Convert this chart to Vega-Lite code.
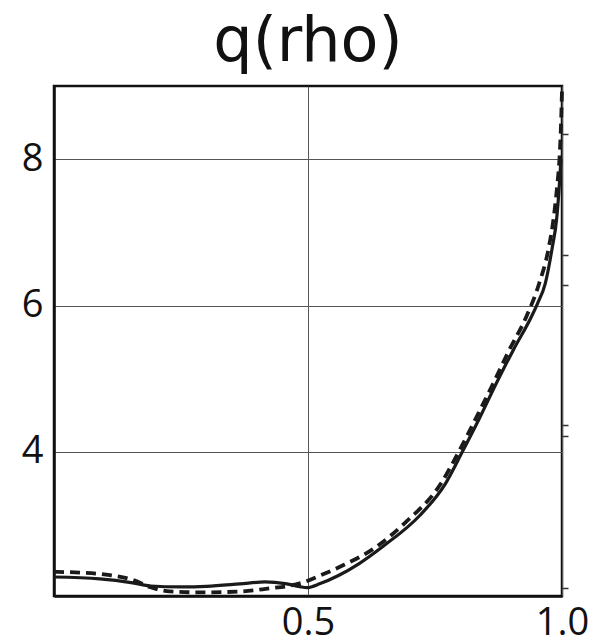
{
  "$schema": "https://vega.github.io/schema/vega-lite/v6.json",
  "width": 508,
  "height": 510,
  "autosize": "none",
  "padding": {"left": 54, "top": 86, "right": 40, "bottom": 48},
  "background": "white",
  "title": {"text": "q(rho)", "fontSize": 62, "font": "DejaVu Sans", "fontWeight": "normal", "color": "#111", "anchor": "middle", "offset": 9},
  "config": {"view": {"stroke": "#111", "strokeWidth": 2.5}},
  "datasets": {
    "curves": [
      {"rho": 0.0, "q": 2.29, "series": "solid"},
      {"rho": 0.09, "q": 2.265, "series": "solid"},
      {"rho": 0.155, "q": 2.21, "series": "solid"},
      {"rho": 0.19, "q": 2.167, "series": "solid"},
      {"rho": 0.25, "q": 2.155, "series": "solid"},
      {"rho": 0.30, "q": 2.162, "series": "solid"},
      {"rho": 0.366, "q": 2.195, "series": "solid"},
      {"rho": 0.415, "q": 2.222, "series": "solid"},
      {"rho": 0.455, "q": 2.20, "series": "solid"},
      {"rho": 0.484, "q": 2.158, "series": "solid"},
      {"rho": 0.498, "q": 2.145, "series": "solid"},
      {"rho": 0.524, "q": 2.20, "series": "solid"},
      {"rho": 0.56, "q": 2.31, "series": "solid"},
      {"rho": 0.60, "q": 2.47, "series": "solid"},
      {"rho": 0.648, "q": 2.71, "series": "solid"},
      {"rho": 0.72, "q": 3.13, "series": "solid"},
      {"rho": 0.77, "q": 3.56, "series": "solid"},
      {"rho": 0.803, "q": 3.99, "series": "solid"},
      {"rho": 0.839, "q": 4.48, "series": "solid"},
      {"rho": 0.871, "q": 4.94, "series": "solid"},
      {"rho": 0.904, "q": 5.39, "series": "solid"},
      {"rho": 0.94, "q": 5.85, "series": "solid"},
      {"rho": 0.952, "q": 6.03, "series": "solid"},
      {"rho": 0.967, "q": 6.30, "series": "solid"},
      {"rho": 0.98, "q": 6.76, "series": "solid"},
      {"rho": 0.99, "q": 7.22, "series": "solid"},
      {"rho": 0.995, "q": 7.67, "series": "solid"},
      {"rho": 0.998, "q": 8.0, "series": "solid"},
      {"rho": 0.0, "q": 2.36, "series": "dashed"},
      {"rho": 0.05, "q": 2.35, "series": "dashed"},
      {"rho": 0.11, "q": 2.315, "series": "dashed"},
      {"rho": 0.155, "q": 2.25, "series": "dashed"},
      {"rho": 0.19, "q": 2.15, "series": "dashed"},
      {"rho": 0.228, "q": 2.092, "series": "dashed"},
      {"rho": 0.287, "q": 2.08, "series": "dashed"},
      {"rho": 0.366, "q": 2.09, "series": "dashed"},
      {"rho": 0.425, "q": 2.135, "series": "dashed"},
      {"rho": 0.465, "q": 2.172, "series": "dashed"},
      {"rho": 0.494, "q": 2.225, "series": "dashed"},
      {"rho": 0.524, "q": 2.31, "series": "dashed"},
      {"rho": 0.563, "q": 2.43, "series": "dashed"},
      {"rho": 0.632, "q": 2.69, "series": "dashed"},
      {"rho": 0.691, "q": 3.03, "series": "dashed"},
      {"rho": 0.761, "q": 3.56, "series": "dashed"},
      {"rho": 0.796, "q": 3.99, "series": "dashed"},
      {"rho": 0.832, "q": 4.48, "series": "dashed"},
      {"rho": 0.865, "q": 4.94, "series": "dashed"},
      {"rho": 0.896, "q": 5.39, "series": "dashed"},
      {"rho": 0.930, "q": 5.85, "series": "dashed"},
      {"rho": 0.955, "q": 6.30, "series": "dashed"},
      {"rho": 0.973, "q": 6.76, "series": "dashed"},
      {"rho": 0.984, "q": 7.22, "series": "dashed"},
      {"rho": 0.991, "q": 7.67, "series": "dashed"},
      {"rho": 0.995, "q": 8.0, "series": "dashed"},
      {"rho": 0.998, "q": 8.46, "series": "dashed"},
      {"rho": 1.0, "q": 8.94, "series": "dashed"}
    ]
  },
  "data": {"name": "curves"},
  "resolve": {"axis": {"y": "independent"}},
  "layer": [
    {
      "transform": [{"filter": "datum.series === 'solid'"}],
      "mark": {"type": "line", "interpolate": "monotone", "color": "#1a1a1a", "strokeWidth": 3.2},
      "encoding": {
        "x": {"field": "rho", "type": "quantitative", "scale": {"domain": [0, 1], "nice": false, "zero": false},
          "axis": {"title": null, "values": [0.5, 1.0], "format": ".1f", "grid": true, "gridColor": "#555", "gridWidth": 1, "gridOpacity": 1, "ticks": false, "labelFontSize": 38, "labelFont": "Open Sans", "labelColor": "#111", "labelPadding": 8, "domainColor": "#111", "domainWidth": 2.5, "labelFlush": false}},
        "y": {"field": "q", "type": "quantitative", "scale": {"domain": [2.03, 9.0], "nice": false, "zero": false},
          "axis": {"title": null, "values": [4, 6, 8], "format": "d", "grid": true, "gridColor": "#555", "gridWidth": 1, "gridOpacity": 1, "ticks": false, "labelFontSize": 38, "labelFont": "Open Sans", "labelColor": "#111", "labelPadding": 11, "domainColor": "#111", "domainWidth": 2.5}}
      }
    },
    {
      "transform": [{"filter": "datum.series === 'dashed'"}],
      "mark": {"type": "line", "interpolate": "monotone", "color": "#1a1a1a", "strokeWidth": 3.8, "strokeDash": [10, 6]},
      "encoding": {
        "x": {"field": "rho", "type": "quantitative"},
        "y": {"field": "q", "type": "quantitative",
          "axis": {"orient": "right", "title": null, "values": [2.14, 4.22, 4.37, 6.28, 6.69, 8.35], "labels": false, "grid": false, "domain": false, "ticks": true, "tickSize": 6, "tickWidth": 1.5, "tickColor": "#333"}}
      }
    }
  ]
}
